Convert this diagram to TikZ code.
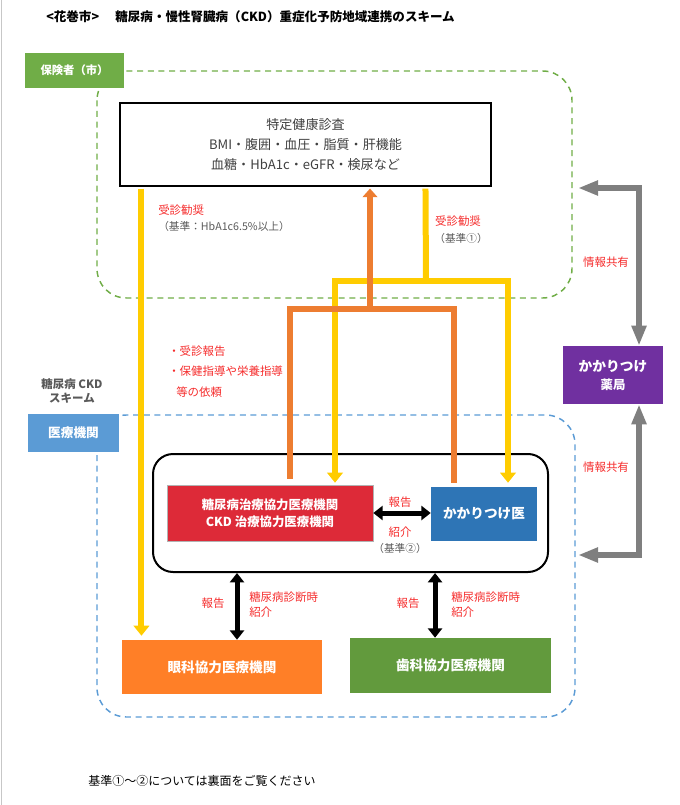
\documentclass[tikz,border=0pt]{standalone}
\usepackage{fontspec}
\setmainfont{Noto Sans CJK JP}
\usetikzlibrary{arrows.meta}
\definecolor{hokengreen}{RGB}{112,173,71}
\definecolor{iryoblue}{RGB}{91,155,213}
\definecolor{lineyellow}{RGB}{255,204,0}
\definecolor{lineorange}{RGB}{237,125,49}
\definecolor{chiryored}{RGB}{221,42,56}
\definecolor{kakariblue}{RGB}{46,117,182}
\definecolor{gankaorange}{RGB}{255,127,39}
\definecolor{shikagreen}{RGB}{98,154,61}
\definecolor{yakupurple}{RGB}{112,48,160}
\definecolor{sharegray}{RGB}{127,127,127}
\definecolor{labelred}{RGB}{245,45,45}
\definecolor{notegray}{RGB}{89,89,89}
\begin{document}
\begin{tikzpicture}[x=0.75pt,y=-0.75pt,
  colbox/.style={inner sep=0pt,text=white,align=center,font=\bfseries\fontsize{9.5}{12}\selectfont},
  redlabel/.style={inner sep=0pt,text=labelred,align=left,font=\fontsize{8.6}{11.25}\selectfont},
  graylabel/.style={inner sep=0pt,text=notegray,font=\fontsize{8}{11}\selectfont},
  zone/.style={line width=1.1pt,dash pattern=on 4.5pt off 3.5pt,rounded corners=22pt},
  yline/.style={lineyellow,line width=4.5pt},
  yarrow/.style={yline,-{Triangle[width=11.5pt,length=7.5pt]}},
  oline/.style={lineorange,line width=5pt},
  oarrow/.style={oline,-{Triangle[width=11pt,length=6.5pt]}},
  duplex/.style={black,line width=3.75pt,{Triangle[width=10.5pt,length=7pt]}-{Triangle[width=10.5pt,length=7pt]}},
  share/.style={sharegray,line width=5pt,{Triangle[width=10.5pt,length=15pt]}-{Triangle[width=10.5pt,length=15pt]}}]
  \useasboundingbox (0,0) rectangle (679,805);
  \draw[black!22] (1,0) -- (1,805);
  \node[anchor=west,inner sep=0pt,font=\bfseries\fontsize{9.4}{11}\selectfont] (title) at (46,17)
    {<花巻市>\hspace{1.3em}糖尿病・慢性腎臓病（CKD）重症化予防地域連携のスキーム};
  % zones
  \draw[zone,hokengreen] (97,71) rectangle (572,298);
  \draw[zone,iryoblue] (97,415) rectangle (575,717);
  % boxes
  \node[colbox,fill=hokengreen,minimum width=74.25pt,minimum height=26.25pt,font=\bfseries\fontsize{8.5}{11}\selectfont] (hoken) at (74.5,70.5) {保険者（市）};
  \node[draw,fill=white,line width=0.8pt,inner sep=0pt,minimum width=278.25pt,minimum height=62.25pt,align=center,text=black!75,font=\fontsize{9.8}{15}\selectfont] (kenshin) at (305.5,144.5)
    {特定健康診査\\BMI・腹囲・血圧・脂質・肝機能\\血糖・HbA1c・eGFR・検尿など};
  \node[align=center,inner sep=0pt,text=notegray,font=\bfseries\fontsize{8.6}{10.5}\selectfont] (ckdlabel) at (72,391) {糖尿病 CKD\\スキーム};
  \node[colbox,fill=iryoblue,minimum width=68.25pt,minimum height=28.5pt] (iryo) at (73.5,433) {医療機関};
  \node[draw,line width=1.5pt,rounded corners=15pt,minimum width=296.25pt,minimum height=88.5pt] (renkei) at (350.5,513) {};
  \node[colbox,fill=chiryored,draw=black!30,minimum width=154.5pt,minimum height=42pt,font=\bfseries\fontsize{9.3}{12.75}\selectfont] (chiryo) at (270,513)
    {糖尿病治療協力医療機関\\CKD 治療協力医療機関};
  \node[colbox,fill=kakariblue,minimum width=79.5pt,minimum height=40.5pt,font=\bfseries\fontsize{10.2}{12}\selectfont] (kakari) at (484,514) {かかりつけ医};
  \node[colbox,fill=gankaorange,minimum width=150pt,minimum height=40.5pt,font=\bfseries\fontsize{10.2}{12}\selectfont] (ganka) at (222,667) {眼科協力医療機関};
  \node[colbox,fill=shikagreen,minimum width=150.75pt,minimum height=41.25pt,font=\bfseries\fontsize{10.2}{12}\selectfont] (shika) at (450.5,665.5) {歯科協力医療機関};
  \node[colbox,fill=yakupurple,minimum width=75pt,minimum height=43.5pt,font=\bfseries\fontsize{10.3}{13.5}\selectfont] (yakkyoku) at (613,375)
    {かかりつけ\\{\fontsize{9.3}{13.5}\selectfont 薬局}};
  % yellow: kenshin -> institutions
  \coordinate (ycross) at (426,281);
  \draw[yarrow,shorten <=1.5pt,shorten >=3pt] ([xshift=16.5pt]kenshin.south west) -- ([xshift=16.5pt]kenshin.south west |- ganka.north);
  \draw[yline,shorten <=1.5pt] ([xshift=229.5pt]kenshin.south west) -- (ycross);
  \draw[yarrow,shorten >=1.5pt] (ycross) -| ([xshift=48.75pt]chiryo.north);
  \draw[yarrow,shorten >=3pt] (ycross) -| ([xshift=18pt]kakari.north);
  % orange: institutions -> kenshin
  \coordinate (ocross) at (370,309);
  \draw[oline,shorten <=4.5pt,shorten >=3pt] ([xshift=15pt]chiryo.north) |- (ocross) -| ([xshift=-22.5pt]kakari.north);
  \draw[oarrow,shorten >=1.5pt] (ocross) -- (ocross |- kenshin.south);
  % black arrows
  \draw[duplex] (chiryo.east) -- (chiryo.east -| kakari.west);
  \draw[duplex] ([xshift=11.25pt]ganka.north |- renkei.south) -- ([xshift=11.25pt]ganka.north);
  \draw[duplex] ([xshift=-11.6pt]shika.north |- renkei.south) -- ([xshift=-11.6pt]shika.north);
  % information sharing
  \coordinate (shareup) at (578,188);
  \coordinate (sharedown) at (578,555);
  \draw[share] ([xshift=19.5pt]yakkyoku.north) |- (shareup);
  \draw[share] ([xshift=19.5pt]yakkyoku.south) |- (sharedown);
  % labels
  \node[redlabel,anchor=west] (kanshoA) at (158,210) {受診勧奨};
  \node[graylabel,anchor=west] (kijunA) at (158,226) {（基準：HbA1c6.5\%以上）};
  \node[redlabel] (kanshoB) at (458,221) {受診勧奨};
  \node[graylabel] (kijunB) at (461,238) {（基準①）};
  \node[redlabel,anchor=west] (irai) at (168,351) {・受診報告};
  \node[redlabel,anchor=west] (shido) at (168,371) {・保健指導や栄養指導};
  \node[redlabel,anchor=west] (tou) at (176,392) {等の依頼};
  \node[redlabel] (hokokuA) at (400,502) {報告};
  \node[redlabel] (shokaiA) at (400,532) {紹介};
  \node[graylabel] (kijunC) at (400,548) {（基準②）};
  \node[redlabel] (hokokuB) at (213,603) {報告};
  \node[redlabel,anchor=west] (shindanB) at (249,605) {糖尿病診断時\\紹介};
  \node[redlabel] (hokokuC) at (408,603) {報告};
  \node[redlabel,anchor=west] (shindanC) at (451,605) {糖尿病診断時\\紹介};
  \node[redlabel] (kyoyuA) at (606,262) {情報共有};
  \node[redlabel] (kyoyuB) at (606,467) {情報共有};
  \node[anchor=west,inner sep=0pt,font=\fontsize{9}{11}\selectfont] (note) at (88,781) {基準①～②については裏面をご覧ください};
\end{tikzpicture}
\end{document}
